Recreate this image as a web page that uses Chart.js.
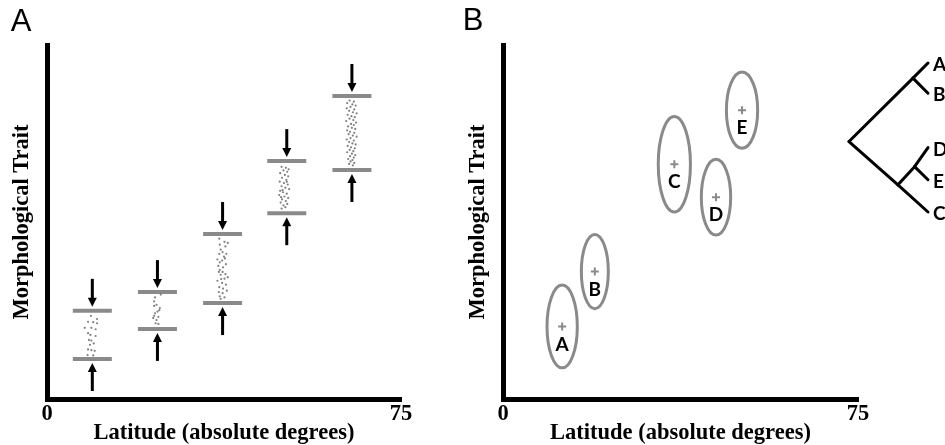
<!DOCTYPE html>
<html>
<head>
<meta charset="utf-8">
<script src="https://cdn.jsdelivr.net/npm/chart.js@4.4.1/dist/chart.umd.min.js"></script>
<style>
  html, body { margin: 0; padding: 0; background: #fff; }
  #wrap { position: relative; width: 945px; height: 445px; overflow: hidden; }
  canvas { position: absolute; top: 0; }
</style>
</head>
<body>
<div id="wrap">
  <canvas id="chart-a" width="456" height="445" style="left:0"></canvas>
  <canvas id="chart-b" width="489" height="445" style="left:456px"></canvas>
  <canvas id="chart-tree" width="105" height="190" style="left:840px;top:40px"></canvas>
</div>
<script>
const colors = {
  black: "#000000",
  gray: "#8a8a8a",
  dot: "#808080",
};

// shared axes
const latTicks = [0, 75];
const latRange = [0, 75];
const traitRange = [0, 100];

// panel A: five populations along latitude
const groupLat = [9.6, 23.4, 37.2, 50.8, 64.6];
const upperLimit = [24.9, 30.2, 46.6, 67.2, 85.6];
const lowerLimit = [11.3, 19.8, 27.1, 52.5, 64.7];

// individuals per population: [latitude offset, trait]
const dotsG1 = [
  [-0.3, 23.5], [1.0, 22.6], [-0.9, 21.8], [0.2, 21.7], [1.0, 21.4], [-1.6, 20.1],
  [-0.2, 20.1], [0.7, 19.7], [-0.9, 18.6], [-0.4, 18.1], [0.7, 17.8], [-0.7, 16.7],
  [-0.2, 16.5], [0.3, 15.7], [-0.5, 15.3], [-0.9, 14.0], [-0.2, 13.8], [0.5, 13.6],
  [-1.0, 12.4], [0.2, 12.3],
];
const dotsG2 = [
  [0.7, 29.5], [-0.5, 28.7], [-0.7, 27.6], [-0.2, 26.6], [-0.7, 26.3], [0.5, 25.7],
  [0.4, 25.1], [0.0, 24.7], [-0.5, 24.2], [-0.7, 23.5], [0.2, 23.2], [-0.9, 22.9],
  [-0.2, 22.3], [-0.4, 21.4], [0.2, 21.2],
];
const dotsG3 = [
  [-0.7, 45.3], [0.4, 44.4], [1.1, 44.1], [-0.6, 43.6], [0.6, 43.1], [-0.4, 42.2],
  [0.0, 41.5], [-0.7, 41.0], [0.8, 41.0], [0.3, 40.2], [-1.1, 39.4], [-0.1, 39.1],
  [-0.6, 38.6], [0.7, 38.1], [0.1, 37.2], [-0.9, 37.6], [-0.6, 36.5], [-0.8, 35.9],
  [0.0, 35.9], [0.6, 35.3], [-0.4, 35.1], [1.1, 34.4], [0.4, 34.0], [-1.1, 33.4],
  [-0.1, 32.8], [0.7, 32.3], [-0.7, 31.6], [0.1, 31.2], [-0.8, 30.2], [0.0, 29.9],
  [-0.6, 29.0], [0.4, 28.7], [-0.4, 28.3], [0.9, 30.6], [-0.3, 33.9], [0.5, 39.7],
];
const dotsG4 = [
  [-1.1, 65.6], [-0.2, 65.3], [0.4, 64.9], [-0.7, 64.6], [0.1, 64.2], [-1.4, 63.8],
  [-0.4, 63.3], [0.3, 62.9], [-1.0, 62.5], [-0.1, 61.9], [-1.5, 61.4], [0.0, 61.4],
  [-0.6, 61.0], [0.2, 60.6], [-1.1, 60.1], [-0.3, 59.7], [0.5, 59.3], [-0.9, 59.0],
  [-1.4, 58.8], [-0.8, 58.4], [0.0, 58.0], [-1.6, 57.6], [-0.5, 57.2], [-1.2, 57.0],
  [0.3, 56.8], [-1.0, 56.4], [-0.2, 55.9], [-1.3, 55.5], [0.1, 55.1], [-0.7, 54.7],
  [-0.3, 54.2], [-1.1, 53.8],
];
const dotsG5 = [
  [-0.5, 84.3], [0.4, 84.0], [-1.0, 83.6], [0.1, 83.2], [0.8, 82.9], [-0.3, 82.5],
  [-1.1, 82.1], [0.5, 81.8], [-0.6, 81.4], [0.2, 81.0], [1.0, 80.7], [-0.9, 80.3],
  [-0.1, 79.9], [0.6, 79.6], [-0.5, 79.2], [0.3, 78.8], [-1.2, 78.5], [0.9, 78.1],
  [-0.2, 77.7], [0.4, 77.4], [-0.8, 77.0], [0.0, 76.6], [0.7, 76.3], [-1.0, 75.9],
  [-0.4, 75.5], [0.5, 75.2], [-0.7, 74.8], [0.2, 74.4], [1.0, 74.1], [-0.3, 73.7],
  [-1.1, 73.3], [0.4, 73.0], [-0.6, 72.6], [0.1, 72.2], [0.8, 71.9], [-0.9, 71.5],
  [-0.2, 71.1], [0.6, 70.8], [-0.5, 70.4], [0.3, 70.0], [-1.0, 69.7], [0.0, 69.3],
  [0.7, 68.9], [-0.4, 68.6], [0.4, 68.2], [-0.8, 67.8], [0.1, 67.5], [-0.3, 67.1],
  [0.5, 66.7], [-0.6, 66.4], [0.2, 66.0],
];
const groupDots = [dotsG1, dotsG2, dotsG3, dotsG4, dotsG5];

// panel B: population means and spread
const popNames = ["A", "B", "C", "D", "E"];
const popLat = [12.5, 19.4, 36.2, 45.0, 50.5];
const popTrait = [20.5, 36.0, 66.3, 57.0, 81.6];
const popSpreadLat = [3.2, 2.85, 3.4, 3.1, 3.3];
const popSpreadTrait = [11.7, 10.5, 13.5, 10.7, 10.8];

// phylogeny: depth from root, position in leaf order
const treeNames = ["", "", "A", "B", "", "", "D", "E", "C"];
const treeDepth = [0, 0.81, 1, 1, 0.62, 0.83, 1, 1, 1];
const treePos = [7.8, 1.5, 0, 3.0, 12.1, 10.3, 8.4, 11.6, 14.8];
const treeParent = [-1, 0, 1, 1, 0, 4, 5, 5, 4];

const serif = { family: "'Liberation Serif', 'Times New Roman', serif", size: 22.5, weight: "bold" };
const labelFont = "bold 19px Lato, 'Open Sans', sans-serif";

function makeScales() {
  return {
    x: {
      type: "linear",
      min: latRange[0],
      max: latRange[1],
      grid: { display: false, drawTicks: false },
      border: { display: true, width: 5, color: colors.black },
      ticks: { padding: 2, color: colors.black, font: serif, maxRotation: 0, autoSkip: false },
      afterBuildTicks: (s) => { s.ticks = latTicks.map((v) => ({ value: v })); },
      afterFit: (s) => { s.height = 46; },
      title: {
        display: true,
        text: "Latitude (absolute degrees)",
        color: colors.black,
        font: serif,
        padding: { top: 0, bottom: -2 },
      },
    },
    y: {
      type: "linear",
      min: traitRange[0],
      max: traitRange[1],
      grid: { display: false, drawTicks: false },
      border: { display: true, width: 5, color: colors.black },
      ticks: { display: false },
      afterFit: (s) => { s.width = 39; },
      title: {
        display: true,
        text: "Morphological Trait",
        color: colors.black,
        font: serif,
        padding: { top: 1, bottom: 0 },
      },
    },
  };
}

const panelLetter = {
  id: "panelLetter",
  afterDraw(chart, args, opts) {
    const ctx = chart.ctx;
    ctx.save();
    ctx.font = "31px 'Liberation Sans', Arial, sans-serif";
    ctx.fillStyle = colors.black;
    ctx.textAlign = "center";
    ctx.textBaseline = "middle";
    ctx.fillText(opts.text, opts.x, opts.y);
    ctx.restore();
  },
};

function drawArrow(ctx, x, from, to) {
  const dir = to > from ? 1 : -1;
  ctx.beginPath();
  ctx.moveTo(x, from);
  ctx.lineTo(x, to - dir * 7);
  ctx.lineWidth = 3;
  ctx.strokeStyle = colors.black;
  ctx.stroke();
  ctx.beginPath();
  ctx.moveTo(x, to);
  ctx.lineTo(x - 4.5, to - dir * 9);
  ctx.lineTo(x + 4.5, to - dir * 9);
  ctx.closePath();
  ctx.fillStyle = colors.black;
  ctx.fill();
}

const selectionArrows = {
  id: "selectionArrows",
  afterDatasetsDraw(chart) {
    const { ctx, scales: { x, y } } = chart;
    ctx.save();
    groupLat.forEach((lat, i) => {
      const px = x.getPixelForValue(lat);
      const top = y.getPixelForValue(upperLimit[i]);
      const bottom = y.getPixelForValue(lowerLimit[i]);
      drawArrow(ctx, px, top - 32, top - 4);
      drawArrow(ctx, px, bottom + 32, bottom + 4);
    });
    ctx.restore();
  },
};

const popEllipses = {
  id: "popEllipses",
  afterDatasetsDraw(chart) {
    const { ctx, scales: { x, y } } = chart;
    ctx.save();
    popNames.forEach((name, i) => {
      const cx = x.getPixelForValue(popLat[i]);
      const cy = y.getPixelForValue(popTrait[i]);
      const rx = x.getPixelForValue(popLat[i] + popSpreadLat[i]) - cx;
      const ry = cy - y.getPixelForValue(popTrait[i] + popSpreadTrait[i]);
      ctx.beginPath();
      ctx.ellipse(cx, cy, rx, ry, 0, 0, Math.PI * 2);
      ctx.lineWidth = 3;
      ctx.strokeStyle = colors.gray;
      ctx.stroke();
      ctx.font = labelFont;
      ctx.fillStyle = colors.black;
      ctx.textAlign = "center";
      ctx.textBaseline = "middle";
      ctx.fillText(name, cx, cy + 18);
    });
    ctx.restore();
  },
};

const tipLabels = {
  id: "tipLabels",
  afterDraw(chart) {
    const { ctx, scales: { x, y } } = chart;
    ctx.save();
    ctx.font = labelFont;
    ctx.fillStyle = colors.black;
    ctx.textAlign = "left";
    ctx.textBaseline = "middle";
    treeNames.forEach((name, i) => {
      if (!name) return;
      ctx.fillText(name, x.getPixelForValue(treeDepth[i]) + 5, y.getPixelForValue(treePos[i]) + 2);
    });
    ctx.restore();
  },
};

const baseOptions = {
  responsive: false,
  animation: false,
  events: [],
  plugins: { legend: { display: false }, tooltip: { enabled: false } },
};

function renderPanelA() {
  const dots = [];
  groupDots.forEach((list, g) => {
    list.forEach(([dx, v]) => dots.push({ x: groupLat[g] + dx, y: v }));
  });

  const config = {
    type: "scatter",
    data: {
      datasets: [
        {
          label: "Individuals",
          data: dots,
          pointRadius: 1.1,
          pointBorderWidth: 0,
          backgroundColor: colors.dot,
        },
        {
          label: "Upper limit",
          data: groupLat.map((lat, i) => ({ x: lat, y: upperLimit[i] })),
          pointStyle: "line",
          pointRadius: 19.5,
          pointBorderWidth: 4,
          borderColor: colors.gray,
        },
        {
          label: "Lower limit",
          data: groupLat.map((lat, i) => ({ x: lat, y: lowerLimit[i] })),
          pointStyle: "line",
          pointRadius: 19.5,
          pointBorderWidth: 4,
          borderColor: colors.gray,
        },
      ],
    },
    options: {
      ...baseOptions,
      layout: { padding: { left: 8, top: 45, right: 55, bottom: 0 } },
      scales: makeScales(),
      plugins: { ...baseOptions.plugins, panelLetter: { text: "A", x: 21, y: 22 } },
    },
    plugins: [selectionArrows, panelLetter],
  };

  new Chart(document.getElementById("chart-a"), config);
}

function renderPanelB() {
  const config = {
    type: "scatter",
    data: {
      datasets: [
        {
          label: "Population means",
          data: popLat.map((lat, i) => ({ x: lat, y: popTrait[i] })),
          pointStyle: "cross",
          pointRadius: 4,
          pointBorderWidth: 2,
          borderColor: colors.gray,
        },
      ],
    },
    options: {
      ...baseOptions,
      layout: { padding: { left: 8, top: 45, right: 87, bottom: 0 } },
      scales: makeScales(),
      plugins: { ...baseOptions.plugins, panelLetter: { text: "B", x: 17, y: 21 } },
    },
    plugins: [popEllipses, panelLetter],
  };

  new Chart(document.getElementById("chart-b"), config);
}

function renderTree() {
  const datasets = [];
  treeParent.forEach((p, i) => {
    if (p < 0) return;
    datasets.push({
      data: [
        { x: treeDepth[p], y: treePos[p] },
        { x: treeDepth[i], y: treePos[i] },
      ],
      showLine: true,
      borderColor: colors.black,
      borderWidth: 3,
      borderCapStyle: "round",
      pointRadius: 0,
      clip: false,
    });
  });

  const config = {
    type: "scatter",
    data: { datasets: datasets },
    options: {
      ...baseOptions,
      layout: { padding: { left: 9, right: 17, top: 23, bottom: 18 } },
      scales: {
        x: { type: "linear", display: false, min: 0, max: 1 },
        y: { type: "linear", display: false, min: 0, max: 14.8, reverse: true },
      },
    },
    plugins: [tipLabels],
  };

  new Chart(document.getElementById("chart-tree"), config);
}

renderPanelA();
renderPanelB();
renderTree();
</script>
</body>
</html>
